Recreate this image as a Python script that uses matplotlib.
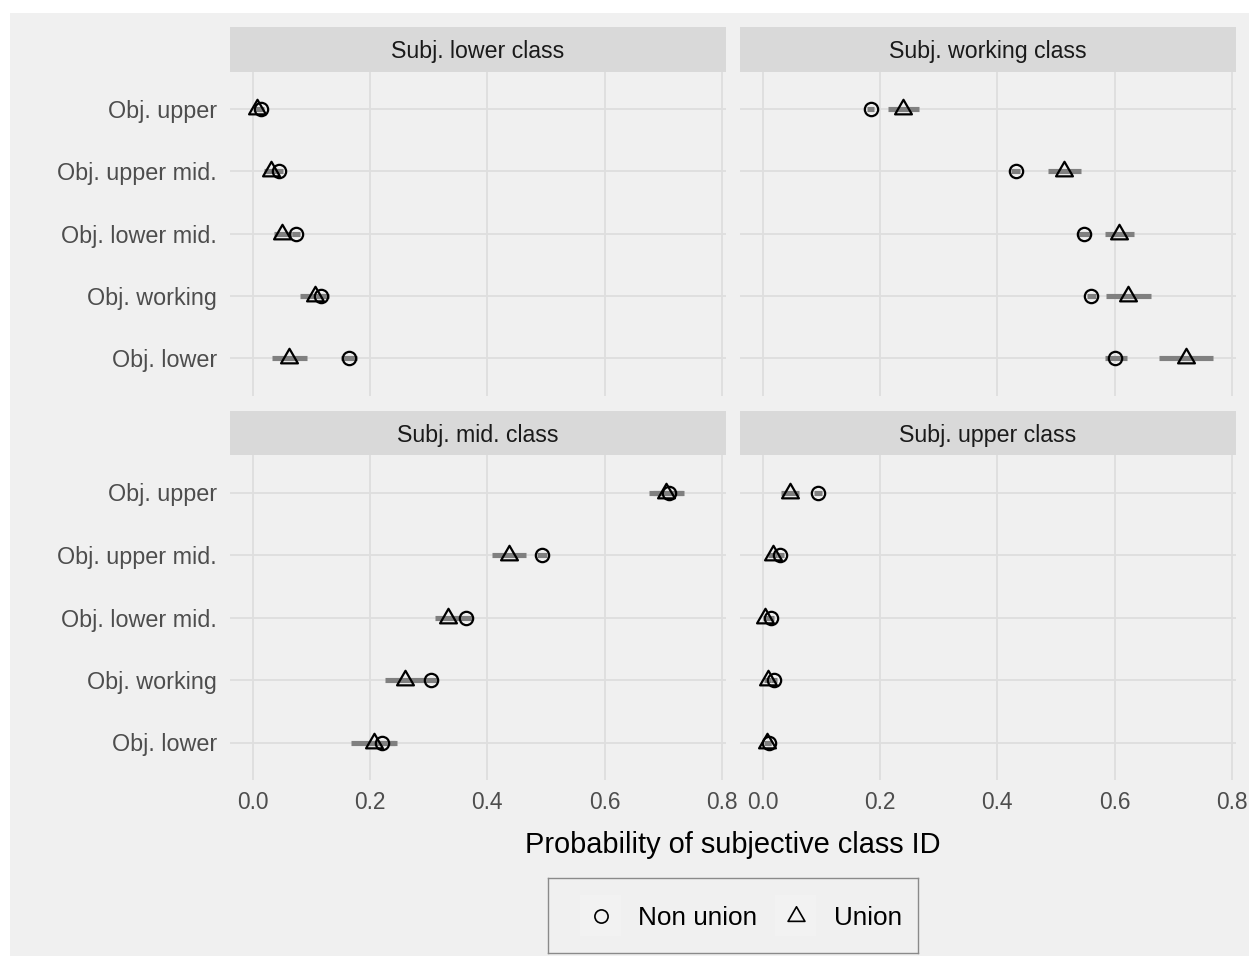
import matplotlib
matplotlib.use("Agg")
import matplotlib.pyplot as plt
from matplotlib.path import Path
from matplotlib.patches import Rectangle

plt.rcParams['font.family'] = ['Liberation Sans', 'DejaVu Sans']

# ---- data -------------------------------------------------------------
obj_levels = ["Obj. upper", "Obj. upper mid.", "Obj. lower mid.",
              "Obj. working", "Obj. lower"]          # top to bottom
panel_titles = ["Subj. lower class", "Subj. working class",
                "Subj. mid. class", "Subj. upper class"]
x_ticks = [0.0, 0.2, 0.4, 0.6, 0.8]
x_ticklabels = ["0.0", "0.2", "0.4", "0.6", "0.8"]
series_names = ["Non union", "Union"]

# Subj. lower class
lower_nonunion = [0.014, 0.045, 0.074, 0.117, 0.165]
lower_nonunion_lo = [0.009, 0.038, 0.068, 0.110, 0.151]
lower_nonunion_hi = [0.019, 0.052, 0.080, 0.124, 0.178]
lower_union = [0.008, 0.031, 0.050, 0.106, 0.062]
lower_union_lo = [0.002, 0.019, 0.036, 0.080, 0.033]
lower_union_hi = [0.014, 0.043, 0.068, 0.131, 0.092]

# Subj. working class
working_nonunion = [0.184, 0.431, 0.548, 0.560, 0.601]
working_nonunion_lo = [0.178, 0.424, 0.538, 0.552, 0.583]
working_nonunion_hi = [0.190, 0.438, 0.558, 0.568, 0.620]
working_union = [0.240, 0.514, 0.607, 0.623, 0.721]
working_union_lo = [0.214, 0.486, 0.584, 0.585, 0.676]
working_union_hi = [0.267, 0.543, 0.632, 0.661, 0.768]

# Subj. mid. class
mid_nonunion = [0.709, 0.493, 0.363, 0.304, 0.221]
mid_nonunion_lo = [0.682, 0.484, 0.352, 0.294, 0.200]
mid_nonunion_hi = [0.735, 0.502, 0.374, 0.314, 0.243]
mid_union = [0.705, 0.437, 0.333, 0.260, 0.207]
mid_union_lo = [0.675, 0.408, 0.311, 0.226, 0.168]
mid_union_hi = [0.733, 0.465, 0.356, 0.294, 0.246]

# Subj. upper class
upper_nonunion = [0.094, 0.030, 0.015, 0.019, 0.011]
upper_nonunion_lo = [0.087, 0.024, 0.010, 0.014, 0.007]
upper_nonunion_hi = [0.101, 0.036, 0.020, 0.024, 0.015]
upper_union = [0.047, 0.017, 0.005, 0.009, 0.008]
upper_union_lo = [0.031, 0.009, 0.000, 0.003, 0.002]
upper_union_hi = [0.062, 0.025, 0.011, 0.015, 0.014]

panels = [
    (lower_nonunion, lower_nonunion_lo, lower_nonunion_hi,
     lower_union, lower_union_lo, lower_union_hi),
    (working_nonunion, working_nonunion_lo, working_nonunion_hi,
     working_union, working_union_lo, working_union_hi),
    (mid_nonunion, mid_nonunion_lo, mid_nonunion_hi,
     mid_union, mid_union_lo, mid_union_hi),
    (upper_nonunion, upper_nonunion_lo, upper_nonunion_hi,
     upper_union, upper_union_lo, upper_union_hi),
]

# ---- styling ----------------------------------------------------------
BG = "#F0F0F0"
STRIP = "#D9D9D9"
GRID = "#DEDEDE"
RANGE = "#808080"
TICK_COL = "#4D4D4D"

W, H = 1249, 956
fig = plt.figure(figsize=(W / 100, H / 100), dpi=100)
fig.patch.set_facecolor("white")
fig.add_artist(Rectangle((10 / W, 0), 1 - 10 / W, 1 - 13 / H,
                         transform=fig.transFigure, facecolor=BG,
                         edgecolor="none", zorder=-10))


def px_axes(x0, y0, x1, y1):
    """Axes placed by pixel box (y measured from the top)."""
    return fig.add_axes([x0 / W, 1 - y1 / H, (x1 - x0) / W, (y1 - y0) / H])


# equilateral triangle centred on its centroid
tri_marker = Path([(-1, -0.577), (1, -0.577), (0, 1.155), (-1, -0.577)],
                  [Path.MOVETO, Path.LINETO, Path.LINETO, Path.CLOSEPOLY])

cols = [(230, 726), (740, 1236)]
rows = [((27, 71.5), (71.5, 395.5)), ((411, 455), (455, 780))]
ypos = [5, 4, 3, 2, 1]

for i, title in enumerate(panel_titles):
    r, c = divmod(i, 2)
    (sx0, sx1) = cols[c]
    (st0, st1), (py0, py1) = rows[r]

    # strip header
    sax = px_axes(sx0, st0, sx1, st1)
    sax.set_facecolor(STRIP)
    sax.set_xticks([]); sax.set_yticks([])
    for sp in sax.spines.values():
        sp.set_visible(False)
    sax.text(0.5, 0.45, title, ha="center", va="center", fontsize=16.7,
             color="#1A1A1A", transform=sax.transAxes)

    ax = px_axes(sx0, py0, sx1, py1)
    ax.set_facecolor(BG)
    for sp in ax.spines.values():
        sp.set_visible(False)
    ax.set_xlim(-0.0384, 0.8065)
    ax.set_ylim(0.4, 5.6)
    ax.set_xticks(x_ticks)
    ax.set_yticks(ypos)
    ax.grid(True, color=GRID, lw=1.3, zorder=0)
    ax.set_axisbelow(True)
    ax.tick_params(length=0, colors=TICK_COL, labelsize=16.3)
    if c == 0:
        ax.set_yticklabels(obj_levels, fontsize=16.8)
        ax.tick_params(axis="y", pad=9.5)
    else:
        ax.set_yticklabels([])
    if r == 1:
        ax.set_xticklabels(x_ticklabels, fontsize=16.4)
        ax.tick_params(axis="x", pad=8)
    else:
        ax.set_xticklabels([])

    nu, nu_lo, nu_hi, un, un_lo, un_hi = panels[i]
    ax.hlines(ypos, nu_lo, nu_hi, colors=RANGE, lw=3.7, capstyle="butt", zorder=2)
    ax.hlines(ypos, un_lo, un_hi, colors=RANGE, lw=3.7, capstyle="butt", zorder=2)
    ax.plot(un, ypos, linestyle="none", marker=tri_marker, ms=14,
            mfc="none", mec="black", mew=1.6, zorder=3)
    ax.plot(nu, ypos, linestyle="none", marker="o", ms=9.6,
            mfc="none", mec="black", mew=1.6, zorder=4)

# shared x-axis title
fig.text(732.5 / W, 1 - 845 / H, "Probability of subjective class ID",
         ha="center", va="center", fontsize=20.9, color="black")

# ---- legend -------------------------------------------------------------
lx0, ly0, lx1, ly1 = 548, 878, 918, 953
lax = px_axes(lx0, ly0, lx1, ly1)
lax.set_xlim(lx0, lx1)
lax.set_ylim(ly1, ly0)
lax.set_facecolor(BG)
lax.set_xticks([]); lax.set_yticks([])
for sp in lax.spines.values():
    sp.set_color("#8A8A8A")
    sp.set_linewidth(1.0)
cy = 915.5
key_specs = [(580, "o", 9.5, 638), (775, tri_marker, 14, 834)]
for (kx, mk, ms, tx), name in zip(key_specs, series_names):
    lax.add_patch(Rectangle((kx, cy - 20.5), 41, 41, facecolor="#F2F2F2",
                            edgecolor="none"))
    lax.plot([kx + 20.5], [cy], linestyle="none", marker=mk, ms=ms,
             mfc="none", mec="black", mew=1.2)
    lax.text(tx, cy + 2.5, name, ha="left", va="center", fontsize=18.8,
             color="black")

fig.savefig("out.png", dpi=100, facecolor=fig.get_facecolor())
